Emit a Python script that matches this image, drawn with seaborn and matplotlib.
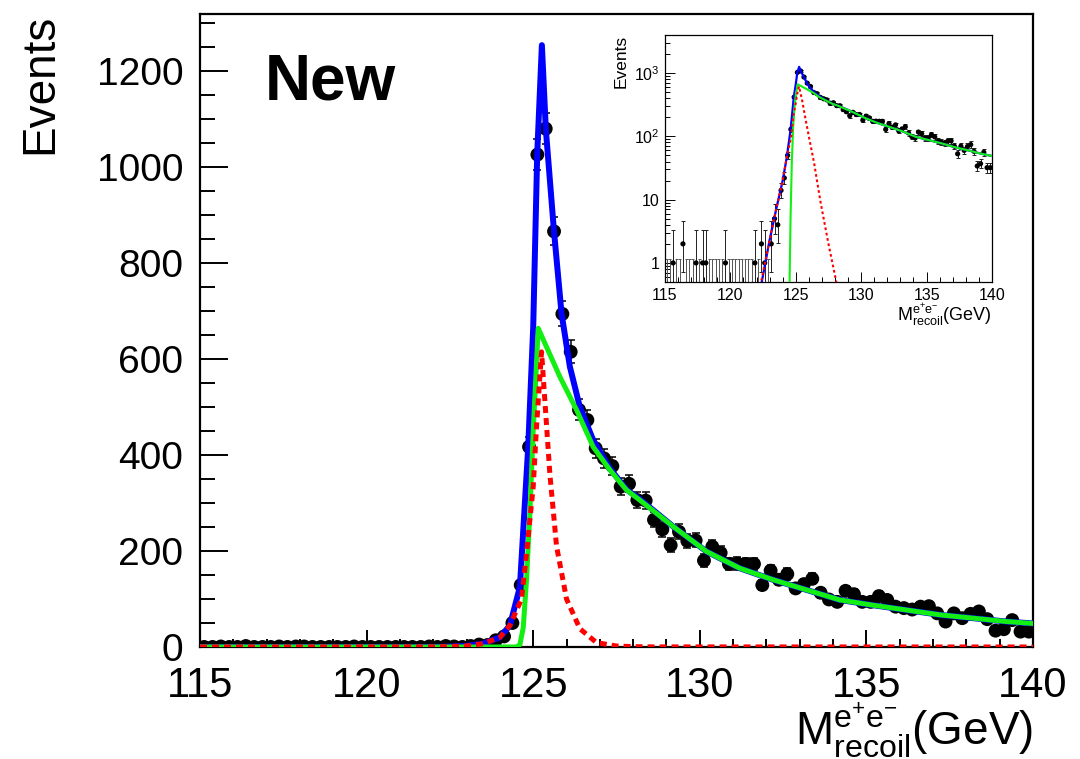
import numpy as np
import pandas as pd
import matplotlib
matplotlib.use("Agg")
import matplotlib.pyplot as plt
import seaborn as sns
from matplotlib.ticker import MultipleLocator, FixedLocator, FixedFormatter, LogLocator, NullFormatter

# ---------------- data ----------------
bin_lo, bin_hi, n_bins = 115.0, 140.0, 100
counts = [0, 0, 1, 0, 0, 2, 0, 0, 0, 1,
          0, 1, 1, 0, 0, 0, 0, 0, 1, 0,
          0, 0, 0, 0, 0, 0, 0, 1, 0, 2,
          1, 0, 2, 5, 4, 14, 22, 50, 129, 417,
          1026, 1080, 866, 694, 615, 494, 473, 414, 393, 377,
          334, 340, 306, 305, 265, 245, 212, 240, 221, 222,
          180, 209, 196, 173, 174, 173, 173, 129, 159, 140,
          152, 122, 131, 142, 113, 99, 94, 117, 110, 94,
          94, 106, 98, 84, 81, 78, 84, 85, 70, 53,
          70, 60, 69, 74, 58, 34, 37, 56, 32, 32]

# total fit (blue)
blue_x = [115.0, 122.0, 122.4, 123.0, 123.5, 124.0, 124.3, 124.6, 124.85, 125.0, 125.12, 125.26,
          125.38, 125.62, 125.85, 126.1, 126.4, 126.8, 127.3, 127.8, 128.2, 129.2, 130.2, 131.2,
          132.2, 133.2, 134.2, 135.2, 136.2, 137.2, 138.2, 139.2, 140.0]
blue_y = [0.0, 0.2, 0.5, 2.3, 7, 20, 45, 125, 417, 667, 1028, 1254,
          1077, 869, 695, 584, 500, 431, 372, 328, 308, 251, 199, 164,
          140, 119, 98, 87, 77, 67, 60, 53, 49]
# background (green)
green_x = [115.0, 124.45, 124.52, 124.6, 124.7, 124.8, 124.9, 125.0, 125.15, 125.8, 126.3, 126.8,
           127.3, 127.8, 128.2, 129.2, 130.2, 131.2, 132.2, 133.2, 134.2, 135.2, 136.2, 137.2,
           138.2, 139.2, 140.0]
green_y = [0.0, 0.0, 0.4, 5, 40, 140, 280, 450, 664, 563, 494, 417,
           369, 327, 306, 251, 199, 164, 140, 119, 98, 87, 77, 67,
           60, 53, 49]
# signal (red dashed)
red_x = [115.0, 122.0, 122.35, 123.0, 123.5, 124.0, 124.3, 124.65, 124.8, 124.9, 125.0, 125.1,
         125.25, 125.5, 125.7, 126.0, 126.4, 126.9, 127.5, 128.1, 128.6, 140.0]
red_y = [0.0, 0.2, 0.5, 2.3, 7, 20, 45, 100, 195, 265, 334, 460,
         615, 360, 210, 100, 38, 9, 2, 0.5, 0.15, 0.0]

main_xticks = [115, 120, 125, 130, 135, 140]
main_yticks = [0, 200, 400, 600, 800, 1000, 1200]
inset_yticks = [1, 10, 100, 1000]
inset_ylabels = ["1", "10", "$10^{2}$", "$10^{3}$"]

# ---------------- derived ----------------
width = (bin_hi - bin_lo) / n_bins
centers = bin_lo + width * (np.arange(n_bins) + 0.5)
cnt = np.array(counts, dtype=float)
garw_lo = {1: 0.827, 2: 1.291, 3: 1.633, 4: 1.914, 5: 2.159}
garw_hi = {0: 1.148, 1: 2.298, 2: 2.638, 3: 2.918, 4: 3.162, 5: 3.382}
err_lo = np.array([garw_lo.get(int(n), np.sqrt(n) - 0.5) if n > 0 else 0 for n in cnt])
err_hi = np.array([garw_hi.get(int(n), np.sqrt(n) + 0.5) for n in cnt])
df = pd.DataFrame({"x": centers, "n": cnt})
nz = cnt > 0

# ---------------- style ----------------
sns.set_theme(style="ticks")
plt.rcParams["font.family"] = ["Liberation Sans", "DejaVu Sans"]
plt.rcParams["mathtext.fontset"] = "custom"
plt.rcParams["mathtext.rm"] = "Liberation Sans"
plt.rcParams["mathtext.it"] = "Liberation Sans:italic"
plt.rcParams["mathtext.bf"] = "Liberation Sans:bold"
for k in ["axes.edgecolor", "xtick.color", "ytick.color", "text.color", "axes.labelcolor",
          "xtick.labelcolor", "ytick.labelcolor"]:
    plt.rcParams[k] = "black"

BLUE = "#0000ff"
GREEN = "#13ee13"
RED = "#ff0000"

fig = plt.figure(figsize=(10.8, 7.59), dpi=100)
fig.patch.set_facecolor("white")

# ---------------- main axes ----------------
ax = fig.add_axes([0.1852, 0.1476, 0.7713, 0.834])
ax.set_facecolor("white")
ax.errorbar(centers[nz], cnt[nz], yerr=[np.minimum(err_lo[nz], cnt[nz]), np.sqrt(cnt[nz])],
            fmt="none", ecolor="black", elinewidth=1.1, capsize=3, capthick=1.1, zorder=2)
sns.scatterplot(data=df, x="x", y="n", ax=ax, color="black", s=100, edgecolor="none",
                zorder=3, legend=False)
sns.lineplot(x=blue_x, y=blue_y, ax=ax, color=BLUE, lw=4.3, sort=False, estimator=None, zorder=4)
sns.lineplot(x=green_x, y=green_y, ax=ax, color=GREEN, lw=3.6, sort=False, estimator=None, zorder=5)
sns.lineplot(x=red_x, y=red_y, ax=ax, color=RED, lw=3.6, sort=False, estimator=None, zorder=6)
ax.lines[-1].set_dashes([1.4, 1.0])

ax.set_xlim(bin_lo, bin_hi)
ax.set_ylim(0, 1319)
ax.xaxis.set_major_locator(FixedLocator(main_xticks))
ax.xaxis.set_minor_locator(MultipleLocator(1))
ax.yaxis.set_major_locator(FixedLocator(main_yticks))
ax.yaxis.set_minor_locator(MultipleLocator(50))
ax.tick_params(axis="both", which="both", direction="in", top=False, right=False, width=1.4)
ax.tick_params(axis="y", which="major", length=20, labelsize=28, pad=12)
ax.tick_params(axis="y", which="minor", length=11)
ax.tick_params(axis="x", which="major", length=12, labelsize=30, pad=14)
ax.tick_params(axis="x", which="minor", length=6)
for s in ax.spines.values():
    s.set_linewidth(1.6)
    s.set_color("black")

ax.set_xlabel(r"M$_{\mathrm{recoil}}^{\mathrm{e^{+}e^{-}}}$(GeV)", fontsize=33, ha="right", va="top")
ax.xaxis.set_label_coords(1.0, -0.084)
ax.set_ylabel("Events", fontsize=33, ha="right")
ax.yaxis.set_label_coords(-0.165, 1.0)
ax.text(116.95, 1140, "New", fontsize=46, fontweight="bold", ha="left", va="baseline",
        color="black")

# ---------------- inset ----------------
axin = fig.add_axes([0.6157, 0.6285, 0.3028, 0.3254])
axin.set_facecolor("white")
axin.set_yscale("log")
axin.set_xlim(bin_lo, bin_hi)
axin.set_ylim(0.5, 4000)
z = ~nz
axin.vlines(centers[z], 0.5, err_hi[z], color="#555555", lw=0.7, zorder=1)
axin.hlines(err_hi[z], centers[z] - 0.12, centers[z] + 0.12, color="#555555", lw=0.7, zorder=1)
axin.errorbar(centers[nz], cnt[nz], yerr=[np.minimum(err_lo[nz], cnt[nz] - 1e-3), err_hi[nz]],
              fmt="none", ecolor="#222222", elinewidth=0.7, capsize=1.2, capthick=0.7, zorder=2)
sns.scatterplot(data=df[nz], x="x", y="n", ax=axin, color="black", s=14, edgecolor="none",
                zorder=3, legend=False)


def pos(xs, ys):
    xs, ys = np.asarray(xs, float), np.asarray(ys, float)
    m = ys > 0
    return xs[m], ys[m]


bx, by = pos(blue_x, blue_y)
gx, gy = pos(green_x, green_y)
rx, ry = pos(red_x, red_y)
sns.lineplot(x=bx, y=by, ax=axin, color=BLUE, lw=1.6, sort=False, estimator=None, zorder=4)
sns.lineplot(x=gx, y=gy, ax=axin, color=GREEN, lw=1.5, sort=False, estimator=None, zorder=5)
sns.lineplot(x=rx, y=ry, ax=axin, color=RED, lw=1.5, sort=False, estimator=None, zorder=6)
axin.lines[-1].set_dashes([1.3, 1.3])

axin.xaxis.set_major_locator(FixedLocator(main_xticks))
axin.xaxis.set_minor_locator(MultipleLocator(1))
axin.yaxis.set_major_locator(FixedLocator(inset_yticks))
axin.yaxis.set_major_formatter(FixedFormatter(inset_ylabels))
axin.yaxis.set_minor_locator(LogLocator(base=10, subs=np.arange(2, 10), numticks=20))
axin.yaxis.set_minor_formatter(NullFormatter())
axin.tick_params(axis="both", which="both", direction="in", top=False, right=False, width=0.7)
axin.tick_params(axis="both", which="major", length=7, labelsize=11.5, pad=4)
axin.tick_params(axis="both", which="minor", length=3.5)
for s in axin.spines.values():
    s.set_linewidth(0.9)
    s.set_color("black")
axin.set_xlabel(r"M$_{\mathrm{recoil}}^{\mathrm{e^{+}e^{-}}}$(GeV)", fontsize=13, ha="right", va="top")
axin.xaxis.set_label_coords(1.0, -0.08)
axin.set_ylabel("Events", fontsize=12.5, ha="right")
axin.yaxis.set_label_coords(-0.11, 1.0)

fig.savefig("out.png", dpi=100)
